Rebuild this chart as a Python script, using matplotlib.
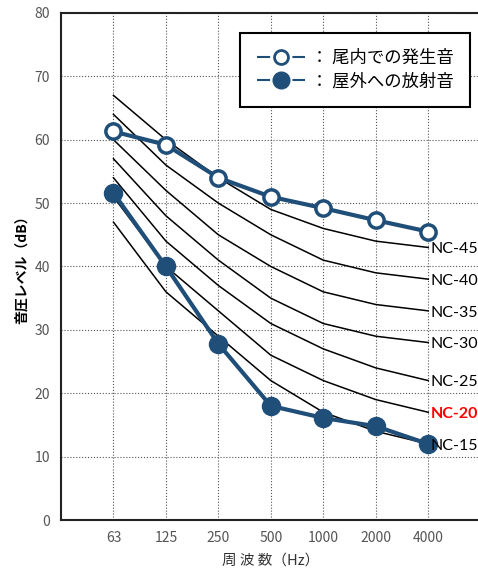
import matplotlib.pyplot as plt
from matplotlib.lines import Line2D

plt.rcParams['font.family'] = ['Noto Sans CJK JP', 'DejaVu Sans']

# =============================================================================
# Data
# =============================================================================
freqs = ["63", "125", "250", "500", "1000", "2000", "4000"]

nc_names = ["NC-15", "NC-20", "NC-25", "NC-30", "NC-35", "NC-40", "NC-45"]
nc_15 = [47, 36, 29, 22, 17, 14, 12]
nc_20 = [51, 40, 33, 26, 22, 19, 17]
nc_25 = [54, 44, 37, 31, 27, 24, 22]
nc_30 = [57, 48, 41, 35, 31, 29, 28]
nc_35 = [60, 52, 45, 40, 36, 34, 33]
nc_40 = [64, 56, 50, 45, 41, 39, 38]
nc_45 = [67, 60, 54, 49, 46, 44, 43]
nc_curves = [nc_15, nc_20, nc_25, nc_30, nc_35, nc_40, nc_45]

inside_name = "尾内での発生音"
inside_db = [61.3, 59.2, 54.0, 51.0, 49.2, 47.3, 45.5]
outside_name = "屋外への放射音"
outside_db = [51.6, 40.0, 27.8, 18.0, 16.1, 14.8, 12.0]

# =============================================================================
# Plot
# =============================================================================
blue = "#1f4e79"
x = list(range(len(freqs)))

fig = plt.figure(figsize=(4.78, 5.71), dpi=100)
ax = fig.add_axes([0.1276, 0.0893, 0.878, 0.8880])

for name, vals in zip(nc_names, nc_curves):
    ax.plot(x, vals, color="black", lw=1.1, zorder=2)
    ax.text(x[-1] + 0.05, vals[-1] - 0.3, name, va="center", ha="left",
            fontsize=11.5, family=["Lato", "DejaVu Sans"],
            color="red" if name == "NC-20" else "black",
            fontweight="bold" if name == "NC-20" else "normal", zorder=4)

ax.plot(x, inside_db, color=blue, lw=3, marker="o", ms=11, mfc="white",
        mec=blue, mew=2.5, zorder=3)
ax.plot(x, outside_db, color=blue, lw=3, marker="o", ms=13, mfc=blue,
        mec=blue, zorder=3)

ax.set_xlim(-1, 7)
ax.set_ylim(0, 80)
ax.set_xticks(x)
ax.set_xticklabels(freqs)
ax.set_yticks(range(0, 81, 10))
ax.tick_params(length=0, labelsize=10, labelcolor="#555555", pad=8)
ax.grid(True, color="#555555", ls=":", lw=0.8)
ax.set_axisbelow(True)
for s in ax.spines.values():
    s.set_linewidth(1.5)
    s.set_color("#222222")

ax.set_ylabel("音圧レベル（dB）", fontsize=10, fontweight="bold", labelpad=4)
ax.set_xlabel("周 波 数（Hz）", fontsize=10.5, color="#333333", labelpad=6)

# legend: line - marker - line with gaps around the marker
handles = [
    Line2D([], [], color=blue, lw=1.5, marker="o", ms=10, mfc="white",
           mec=blue, mew=2, dashes=(6.3, 10.7)),
    Line2D([], [], color=blue, lw=1.5, marker="o", ms=12, mfc=blue, mec=blue,
           dashes=(6.3, 10.7)),
]
leg = ax.legend(handles, [" ： " + inside_name, " ： " + outside_name],
                loc="upper right", bbox_to_anchor=(0.975, 0.961),
                fontsize=12.5, handlelength=2.8, handletextpad=0.1,
                fancybox=False, edgecolor="black", framealpha=1,
                borderpad=0.95, labelspacing=0.3, borderaxespad=0)
leg.get_frame().set_linewidth(1.5)

fig.savefig("out.png", dpi=100)
